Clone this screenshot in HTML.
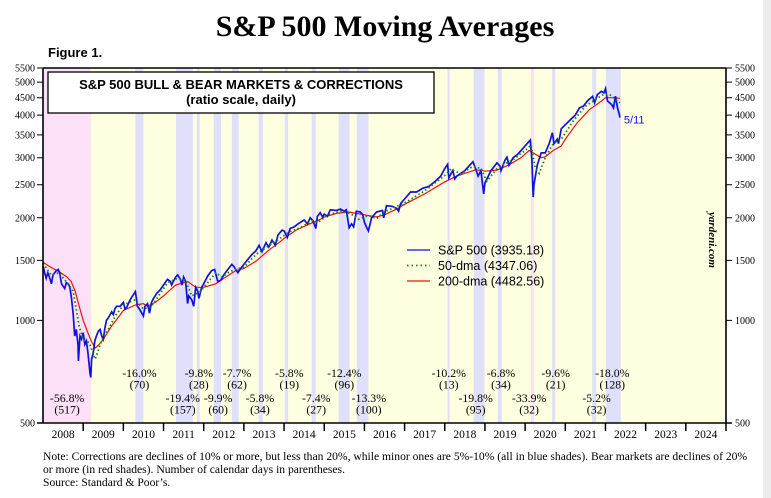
<!DOCTYPE html>
<html><head><meta charset="utf-8"><style>
body{margin:0;background:#fff;width:771px;height:498px;overflow:hidden}
svg{display:block}
.serif{font-family:"Liberation Serif",serif}
.sans{font-family:"Liberation Sans",sans-serif}
</style></head><body>
<svg id="chart" width="771" height="498" viewBox="0 0 771 498">
<rect x="763" y="0" width="8" height="498" fill="#ececec"/>
<text x="385" y="36" text-anchor="middle" class="serif" font-weight="bold" font-size="30">S&amp;P 500 Moving Averages</text>
<text x="48" y="57" class="sans" font-weight="bold" font-size="13">Figure 1.</text>
<g id="plot"></g>
<g id="marks"></g>
<g id="frame"></g>
<text class="serif" font-size="11.6" x="43" y="460">Note: Corrections are declines of 10% or more, but less than 20%, while minor ones are 5%-10% (all in blue shades). Bear markets are declines of 20%</text>
<text class="serif" font-size="11.6" x="43" y="473">or more (in red shades). Number of calendar days in parentheses.</text>
<text class="serif" font-size="11.6" x="43" y="486">Source: Standard &amp; Poor’s.</text>
</svg>
<script>
const spDates=[2008.00,2008.04,2008.08,2008.12,2008.17,2008.21,2008.25,2008.33,2008.38,2008.42,2008.46,2008.5,2008.54,2008.58,2008.63,2008.67,2008.71,2008.75,2008.79,2008.83,2008.87,2008.88,2008.92,2008.96,2009.00,2009.04,2009.08,2009.12,2009.17,2009.19,2009.21,2009.25,2009.29,2009.33,2009.38,2009.42,2009.46,2009.5,2009.54,2009.58,2009.63,2009.67,2009.71,2009.75,2009.79,2009.83,2009.92,2010.0,2010.04,2010.08,2010.17,2010.25,2010.3,2010.35,2010.4,2010.46,2010.5,2010.54,2010.6,2010.65,2010.7,2010.75,2010.83,2010.92,2011.0,2011.1,2011.17,2011.2,2011.3,2011.35,2011.42,2011.46,2011.5,2011.55,2011.6,2011.63,2011.7,2011.75,2011.8,2011.85,2011.88,2011.95,2012.0,2012.1,2012.2,2012.27,2012.35,2012.42,2012.5,2012.6,2012.7,2012.75,2012.85,2012.92,2013.0,2013.1,2013.2,2013.3,2013.38,2013.45,2013.55,2013.62,2013.7,2013.78,2013.85,2013.95,2014.0,2014.08,2014.15,2014.25,2014.35,2014.5,2014.58,2014.65,2014.72,2014.79,2014.83,2014.9,2014.96,2015.0,2015.08,2015.15,2015.3,2015.4,2015.5,2015.55,2015.62,2015.68,2015.73,2015.8,2015.9,2015.96,2016.0,2016.06,2016.1,2016.18,2016.3,2016.45,2016.48,2016.55,2016.7,2016.8,2016.85,2016.9,2017.0,2017.15,2017.3,2017.45,2017.6,2017.75,2017.9,2018.0,2018.07,2018.1,2018.2,2018.25,2018.3,2018.5,2018.7,2018.77,2018.83,2018.9,2018.97,2019.0,2019.15,2019.3,2019.38,2019.4,2019.5,2019.55,2019.6,2019.7,2019.8,2019.9,2020.0,2020.13,2020.17,2020.2,2020.22,2020.3,2020.4,2020.5,2020.6,2020.68,2020.72,2020.8,2020.83,2020.9,2021.0,2021.15,2021.25,2021.35,2021.45,2021.55,2021.68,2021.73,2021.8,2021.9,2021.96,2022.0,2022.05,2022.15,2022.2,2022.25,2022.3,2022.35,2022.36];
const spValues=[1447,1380,1330,1380,1330,1280,1360,1400,1410,1370,1280,1260,1240,1290,1280,1250,1160,1050,900,940,850,760,900,880,920,850,870,800,700,680,770,800,870,900,930,940,900,880,950,1000,1020,1040,1060,1040,1080,1100,1100,1130,1080,1090,1150,1190,1215,1100,1080,1050,1030,1100,1120,1050,1130,1160,1200,1230,1270,1320,1300,1270,1340,1360,1320,1270,1340,1300,1120,1180,1150,1100,1250,1220,1160,1250,1280,1350,1400,1410,1300,1310,1360,1410,1460,1440,1380,1420,1460,1510,1560,1600,1660,1590,1690,1640,1720,1660,1780,1840,1830,1750,1860,1880,1920,1970,1920,2000,1960,1860,2020,2070,2010,2050,2020,2110,2100,2120,2090,2110,1870,1920,1880,2090,2080,2040,1940,1870,1830,2000,2080,2100,2000,2170,2160,2130,2090,2200,2270,2380,2380,2440,2470,2550,2650,2790,2870,2620,2750,2600,2650,2750,2920,2780,2650,2750,2350,2530,2750,2900,2830,2750,2950,3010,2850,3000,3060,3150,3250,3380,2950,2300,2500,2850,3100,3100,3300,3550,3300,3400,3300,3650,3750,3900,4000,4200,4250,4400,4540,4350,4600,4700,4650,4790,4400,4300,4200,4550,4200,4000,3935];
const ma50Dates=[2008.0,2008.2,2008.4,2008.6,2008.75,2008.9,2009.0,2009.15,2009.3,2009.45,2009.6,2009.8,2010.0,2010.3,2010.5,2010.7,2010.9,2011.1,2011.35,2011.55,2011.7,2011.9,2012.1,2012.3,2012.45,2012.65,2012.85,2013.0,2013.3,2013.6,2013.9,2014.1,2014.4,2014.7,2014.85,2015.1,2015.4,2015.65,2015.85,2016.1,2016.3,2016.5,2016.8,2017.0,2017.5,2018.0,2018.15,2018.4,2018.7,2018.9,2019.05,2019.3,2019.5,2019.7,2020.0,2020.15,2020.25,2020.35,2020.5,2020.7,2020.9,2021.2,2021.5,2021.75,2021.95,2022.1,2022.25,2022.36];
const ma50Values=[1470,1360,1380,1290,1220,960,880,860,770,870,930,1030,1110,1150,1080,1100,1190,1290,1330,1310,1180,1210,1290,1380,1340,1390,1420,1430,1560,1650,1740,1810,1870,1960,1940,2040,2090,2060,1980,2030,1990,2080,2160,2210,2400,2660,2780,2690,2830,2790,2560,2790,2880,2960,3150,3270,2800,2700,3000,3300,3400,3850,4250,4450,4600,4600,4450,4347];
const ma200Dates=[2008.0,2008.2,2008.4,2008.6,2008.7,2008.8,2008.9,2009.0,2009.1,2009.2,2009.3,2009.4,2009.5,2009.7,2009.9,2010.0,2010.3,2010.5,2010.6,2010.8,2011.0,2011.3,2011.6,2011.8,2012.0,2012.3,2012.5,2012.8,2013.0,2013.3,2013.6,2013.9,2014.0,2014.3,2014.6,2014.9,2015.0,2015.3,2015.6,2015.8,2016.0,2016.3,2016.5,2016.8,2017.0,2017.5,2018.0,2018.3,2018.5,2018.75,2018.9,2019.0,2019.3,2019.6,2019.9,2020.1,2020.2,2020.4,2020.5,2020.7,2020.9,2021.0,2021.3,2021.6,2021.9,2022.0,2022.2,2022.36];
const ma200Values=[1480,1430,1390,1340,1300,1220,1100,1000,930,870,830,850,880,960,1030,1070,1110,1120,1100,1130,1180,1270,1300,1250,1250,1280,1330,1400,1420,1490,1600,1700,1740,1840,1910,1980,2010,2060,2080,2060,2040,2010,2040,2120,2190,2350,2550,2650,2700,2760,2760,2740,2760,2860,3000,3150,3100,3000,3020,3150,3250,3400,3800,4150,4400,4500,4500,4482];
const yearLabels=["2008","2009","2010","2011","2012","2013","2014","2015","2016","2017","2018","2019","2020","2021","2022","2023","2024"];
const yTicks=[500,1000,1500,2000,2500,3000,3500,4000,4500,5000,5500];
const bearBands=[[2008.0,2009.19],[2020.14,2020.22]];
const corrBands=[[2010.3,2010.5],[2011.31,2011.73],[2011.83,2011.9],[2012.25,2012.43],[2012.7,2012.87],[2013.37,2013.47],[2014.02,2014.1],[2014.69,2014.79],[2015.36,2015.63],[2015.81,2016.1],[2018.07,2018.12],[2018.72,2018.99],[2019.32,2019.42],[2020.67,2020.75],[2021.67,2021.77],[2022.01,2022.38]];
const annPct=["-56.8%","-16.0%","-19.4%","-9.8%","-9.9%","-7.7%","-5.8%","-5.8%","-7.4%","-12.4%","-13.3%","-10.2%","-19.8%","-6.8%","-33.9%","-9.6%","-5.2%","-18.0%"];
const annDays=["(517)","(70)","(157)","(28)","(60)","(62)","(34)","(19)","(27)","(96)","(100)","(13)","(95)","(34)","(32)","(21)","(32)","(128)"];
const annYear=[2008.6,2010.4,2011.48,2011.88,2012.36,2012.83,2013.4,2014.13,2014.8,2015.5,2016.11,2018.1,2018.77,2019.4,2020.1,2020.76,2021.78,2022.17];
const annRow=[1,0,1,0,1,0,1,0,1,0,1,0,1,0,1,0,1,0];

const NS="http://www.w3.org/2000/svg";
const L=43,R=726,T=68,B=423,Y0=2008;
const pxYr=(R-L)/17;
const X=t=>L+(t-Y0)*pxYr;
const Y=v=>B-(B-T)*Math.log(v/500)/Math.log(11);
function mk(tag,attrs,parent){const e=document.createElementNS(NS,tag);for(const k in attrs)e.setAttribute(k,attrs[k]);parent.appendChild(e);return e;}
const plot=document.getElementById('plot'),marks=document.getElementById('marks'),frame=document.getElementById('frame');
let bg=mk('rect',{x:L,y:T,width:R-L,height:B-T,fill:'#fefee0'},plot);


bearBands.forEach(b=>{const r=mk('rect',{x:X(b[0]),y:T,width:X(b[1])-X(b[0]),height:B-T,fill:'#fbe0f8'},plot);

});
corrBands.forEach(b=>{const r=mk('rect',{x:X(b[0]),y:T,width:X(b[1])-X(b[0]),height:B-T,fill:'#e0e0fa'},plot);

});
function line(d,v,attrs,name){const p=d.map((t,i)=>(i?'L':'M')+X(t).toFixed(1)+','+Y(v[i]).toFixed(1)).join('');const e=mk('path',Object.assign({d:p,fill:'none'},attrs),marks);

}
line(ma200Dates,ma200Values,{stroke:'#ee1111','stroke-width':1.2},'ma200-line');
line(spDates,spValues,{stroke:'#1010dd','stroke-width':1.7},'sp500-line');
line(ma50Dates,ma50Values,{stroke:'#118811','stroke-width':1.8,'stroke-dasharray':'1.5 2.5'},'ma50-line');
let ax=mk('path',{d:`M${L},${T}H${R}M${L},${T}V${B}M${R},${T}V${B}M${L-6},${B}H${R+6}`,stroke:'#000','stroke-width':1.6,fill:'none'},frame);


yTicks.forEach(v=>{const y=Y(v);
mk('path',{d:`M${L-6},${y}H${L}M${R},${y}H${R+6}`,stroke:'#000','stroke-width':1},frame);
let a=mk('text',{x:L-8,y:y+3.5,'text-anchor':'end','font-size':10,class:'serif'},frame);a.textContent=v;


let b=mk('text',{x:R+9,y:y+3.5,'font-size':10,class:'serif'},frame);b.textContent=v;

});
yearLabels.forEach((lab,i)=>{const x0=X(Y0+i);
if(i>0)mk('path',{d:`M${x0},${B}V${B+8}`,stroke:'#000','stroke-width':1.5},frame);
let t=mk('text',{x:x0+pxYr/2,y:B+15,'text-anchor':'middle','font-size':11.5,class:'serif'},frame);t.textContent=lab;

});
mk('path',{d:`M${R},${B}V${B+8}`,stroke:'#000','stroke-width':1.5},frame);
annPct.forEach((p,i)=>{const cx=X(annYear[i]);const y=annRow[i]?402:377;
let a=mk('text',{x:cx,y:y,'text-anchor':'middle','font-size':11.8,class:'serif'},frame);a.textContent=p;


let b=mk('text',{x:cx,y:y+11.5,'text-anchor':'middle','font-size':11.8,class:'serif'},frame);b.textContent=annDays[i];

});
let tb=mk('rect',{x:48,y:72,width:386,height:41,fill:'#fff',stroke:'#000','stroke-width':1.3},frame);


let t1=mk('text',{x:241,y:89,'text-anchor':'middle','font-size':13,'font-weight':'bold',class:'sans'},frame);t1.textContent='S&P 500 BULL & BEAR MARKETS & CORRECTIONS';


let t2=mk('text',{x:241,y:104,'text-anchor':'middle','font-size':13,'font-weight':'bold',class:'sans'},frame);t2.textContent='(ratio scale, daily)';


const lg=[['S&P 500 (3935.18)','#1010dd',''],['50-dma (4347.06)','#118811','1.5 3'],['200-dma (4482.56)','#ee1111','']];
lg.forEach((e,i)=>{const y=250+i*15.5;
let l=mk('path',{d:`M407,${y}H430`,stroke:e[1],'stroke-width':e[2]?1.8:1.3,'stroke-dasharray':e[2]||'none'},frame);


let t=mk('text',{x:438,y:y+4.5,'font-size':12.5,class:'sans'},frame);t.textContent=e[0];

});
let d=mk('text',{x:X(spDates[spDates.length-1])+4,y:Y(spValues[spValues.length-1])+6,'font-size':11,fill:'#1010dd',class:'sans'},frame);d.textContent='5/11';


let w=mk('text',{x:0,y:0,'font-size':11,'font-weight':'bold','font-style':'italic',class:'serif',transform:'translate(709,240) rotate(90)','text-anchor':'middle'},frame);w.textContent='yardeni.com';


</script>
</body></html>
